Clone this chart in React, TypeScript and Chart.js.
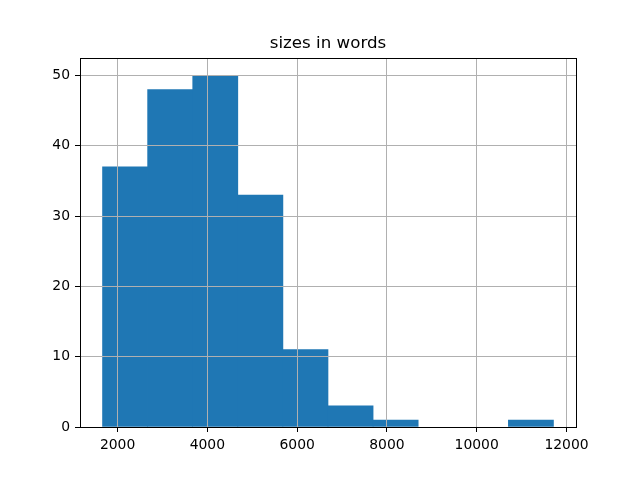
import React, { useEffect, useRef } from 'react';
import { Chart, registerables } from 'chart.js';

Chart.register(...registerables);

// Histogram bin edges (words) and counts per bin
const binEdges = [1665, 2669.5, 3674, 4678.5, 5683, 6687.5, 7692, 8696.5, 9701, 10705.5, 11710];
const counts = [37, 48, 50, 33, 11, 3, 1, 0, 0, 1];
const xTicks = [2000, 4000, 6000, 8000, 10000, 12000];
const yTicks = [0, 10, 20, 30, 40, 50];
const titleText = 'sizes in words';

const X_MIN = 1163;
const X_MAX = 12212;
const Y_MAX = 52.5;

const FONT = 'DejaVu Sans';
const BAR_COLOR = '#1f77b4';

export default function App() {
  const canvasRef = useRef<HTMLCanvasElement | null>(null);

  useEffect(() => {
    const canvas = canvasRef.current;
    if (!canvas) return;
    const data = counts.map((c, i) => ({ x: (binEdges[i] + binEdges[i + 1]) / 2, y: c }));

    const tickFont = { family: FONT, size: 13.9 };

    const chart = new Chart(canvas, {
      type: 'bar',
      data: {
        datasets: [
          {
            data,
            backgroundColor: (ctx: any) =>
              ctx.raw && ctx.raw.y === 0 ? 'rgba(0,0,0,0)' : BAR_COLOR,
            borderWidth: 0,
            barPercentage: 1,
            categoryPercentage: 1,
          },
        ],
      },
      options: {
        responsive: false,
        animation: false,
        layout: { padding: 0 },
        plugins: {
          legend: { display: false },
          tooltip: { enabled: false },
          title: {
            display: true,
            text: titleText,
            color: '#000',
            fullSize: false,
            font: { family: FONT, size: 16.67, weight: 'normal' },
            padding: { top: 34, bottom: 4 },
          },
        },
        scales: {
          x: {
            type: 'linear',
            position: 'bottom',
            min: X_MIN,
            max: X_MAX,
            offset: false,
            afterBuildTicks: (s: any) => {
              s.ticks = xTicks.map((v) => ({ value: v }));
            },
            afterFit: (s: any) => {
              s.height = 53;
            },
            ticks: {
              color: '#000',
              font: tickFont,
              padding: 5,
              maxRotation: 0,
              autoSkip: false,
              callback: (v: any) => String(v),
            },
            grid: {
              offset: false,
              color: '#b0b0b0',
              lineWidth: 1,
              tickColor: '#000',
              tickLength: 5,
              tickWidth: 1,
              z: 1,
            },
            border: { color: '#000', width: 1, z: 2 },
          },
          x2: {
            type: 'linear',
            position: 'top',
            min: X_MIN,
            max: X_MAX,
            afterFit: (s: any) => {
              s.height = 0;
            },
            ticks: { display: false },
            grid: { display: false },
            border: { color: '#000', width: 1, z: 2 },
          },
          y: {
            type: 'linear',
            position: 'left',
            min: 0,
            max: Y_MAX,
            afterBuildTicks: (s: any) => {
              s.ticks = yTicks.map((v) => ({ value: v }));
            },
            afterFit: (s: any) => {
              s.width = 80;
            },
            ticks: {
              color: '#000',
              font: tickFont,
              padding: 5,
              callback: (v: any) => String(v),
            },
            grid: {
              color: '#b0b0b0',
              lineWidth: 1,
              tickColor: '#000',
              tickLength: 5,
              tickWidth: 1,
              z: 1,
            },
            border: { color: '#000', width: 1, z: 2 },
          },
          y2: {
            type: 'linear',
            position: 'right',
            min: 0,
            max: Y_MAX,
            afterFit: (s: any) => {
              s.width = 64;
            },
            ticks: { display: false },
            grid: { display: false },
            border: { color: '#000', width: 1, z: 2 },
          },
        },
      } as any,
    });

    return () => {
      chart.destroy();
    };
  }, []);

  return (
    <div style={{ position: 'absolute', left: 0, top: 0, width: 640, height: 480, background: '#fff' }}>
      <canvas ref={canvasRef} width={640} height={480} />
    </div>
  );
}
